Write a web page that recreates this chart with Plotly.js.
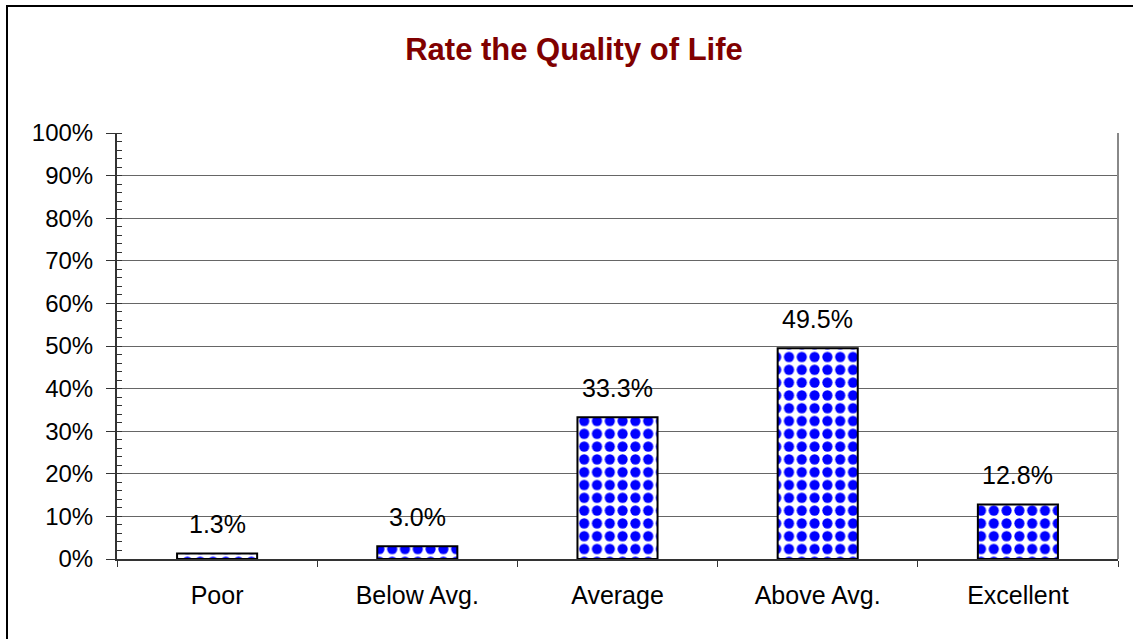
<!DOCTYPE html>
<html>
<head>
<meta charset="utf-8">
<script src="https://cdn.plot.ly/plotly-3.0.1.min.js"></script>
<style>
  html, body { margin: 0; padding: 0; background: #fff; }
  #wrap { position: relative; width: 1133px; height: 639px; overflow: hidden; }
  #chart { width: 1133px; height: 639px; }
  #frame { position: absolute; left: 6px; top: 5px; width: 1140px; height: 650px;
           border: 2px solid #000; box-sizing: border-box; pointer-events: none; }
</style>
</head>
<body>
<div id="wrap">
  <div id="chart"></div>
  <div id="frame"></div>
</div>
<script>
const categories = ["Poor", "Below Avg.", "Average", "Above Avg.", "Excellent"];
const values = [0.013, 0.030, 0.333, 0.495, 0.128];
const valueLabels = ["1.3%", "3.0%", "33.3%", "49.5%", "12.8%"];
const chartTitle = "Rate the Quality of Life";

const font = "Arial, 'Liberation Sans', sans-serif";

const trace = {
  type: "bar",
  x: categories,
  y: values,
  width: 0.4,
  marker: {
    color: "#ffffff",
    line: { color: "#000000", width: 2 },
    pattern: { shape: ".", fgcolor: "#0000ff", bgcolor: "#ffffff", size: 12.8, solidity: 0.5 }
  },
  hoverinfo: "skip"
};

const annotations = categories.map((c, i) => ({
  x: c, y: values[i], xref: "x", yref: "y",
  text: valueLabels[i], showarrow: false,
  yanchor: "bottom", yshift: 13,
  font: { family: font, size: 25, color: "#000" }
}));

const layout = {
  width: 1133, height: 639,
  paper_bgcolor: "#ffffff", plot_bgcolor: "#ffffff",
  margin: { l: 117, r: 15, t: 133, b: 80 },
  showlegend: false,
  bargap: 0.6,
  title: {
    text: "<b>" + chartTitle + "</b>",
    font: { family: font, size: 31, color: "#800000" },
    x: 574/1133, xanchor: "center", xref: "container",
    y: 1 - 49/639, yanchor: "middle", yref: "container"
  },
  xaxis: {
    type: "category",
    tickson: "boundaries",
    ticks: "outside", ticklen: 6, tickwidth: 1, tickcolor: "#333",
    showline: true, linecolor: "#333", linewidth: 2,
    showgrid: false, zeroline: false,
    tickfont: { family: font, size: 25, color: "#000" },
    ticklabelstandoff: 13
  },
  yaxis: {
    range: [0, 1],
    dtick: 0.1, tick0: 0,
    tickformat: ".0%",
    ticks: "outside", ticklen: 9, tickwidth: 1, tickcolor: "#333",
    showline: true, linecolor: "#333", linewidth: 2,
    showgrid: true, gridcolor: "#666", gridwidth: 1,
    zeroline: false,
    minor: { dtick: 0.02, ticks: "inside", ticklen: 5, tickcolor: "#333", tickwidth: 1, showgrid: false },
    tickfont: { family: font, size: 24, color: "#000" },
    ticklabelstandoff: 8
  },
  annotations: annotations,
  shapes: [
    { type: "line", xref: "paper", yref: "paper", x0: 1, x1: 1, y0: 0, y1: 1,
      line: { color: "#888", width: 2 } }
  ]
};

Plotly.newPlot("chart", [trace], layout, { displayModeBar: false, staticPlot: true });
</script>
</body>
</html>
